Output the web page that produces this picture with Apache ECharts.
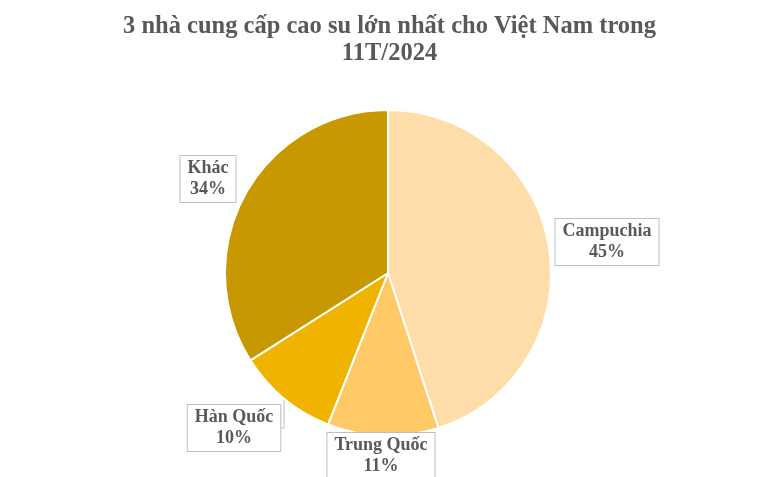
<!DOCTYPE html>
<html>
<head>
<meta charset="utf-8">
<script src="https://cdn.jsdelivr.net/npm/echarts@6/dist/echarts.min.js"></script>
<style>
html,body{margin:0;padding:0;background:#fff;}
#c{width:779px;height:477px;}
</style>
</head>
<body>
<div id="c"></div>
<script>
var categories = ['Campuchia', 'Trung Quốc', 'Hàn Quốc', 'Khác'];
var shares = [45, 11, 10, 34];
var sliceColors = ['#FEDDA9', '#FEC966', '#F0B400', '#C79800'];
var labelPos = [[607, 242], [381, 456], [234, 428], [208, 179]];
var showLine = [false, false, true, false];

var chart = echarts.init(document.getElementById('c'));
chart.setOption({
  backgroundColor: '#ffffff',
  title: {
    text: '3 nhà cung cấp cao su lớn nhất cho Việt Nam trong\n11T/2024',
    left: 'center',
    top: 8,
    textStyle: {
      fontFamily: 'Liberation Serif',
      fontWeight: 'bold',
      fontSize: 24.5,
      lineHeight: 27,
      color: '#595959'
    }
  },
  series: [{
    type: 'pie',
    center: [388, 273],
    radius: [0, 163],
    startAngle: 90,
    clockwise: true,
    animation: false,
    itemStyle: { borderColor: '#ffffff', borderWidth: 2 },
    data: categories.map(function (n, i) {
      return { name: n, value: shares[i], itemStyle: { color: sliceColors[i] }, labelLine: { show: showLine[i] } };
    }),
    label: {
      show: true,
      formatter: '{b}\n{c}%',
      fontFamily: 'Liberation Serif',
      fontWeight: 'bold',
      fontSize: 18,
      lineHeight: 21,
      color: '#595959',
      backgroundColor: '#ffffff',
      borderColor: '#bfbfbf',
      borderWidth: 1,
      padding: [2, 7, 2, 7],
      align: 'center'
    },
    labelLine: {
      length: 10,
      length2: 10,
      lineStyle: { color: '#bfbfbf', width: 1 }
    },
    labelLayout: function (params) {
      var p = labelPos[params.dataIndex];
      return { x: p[0], y: p[1], align: 'center', verticalAlign: 'middle', moveOverlap: false };
    }
  }]
});
</script>
</body>
</html>
